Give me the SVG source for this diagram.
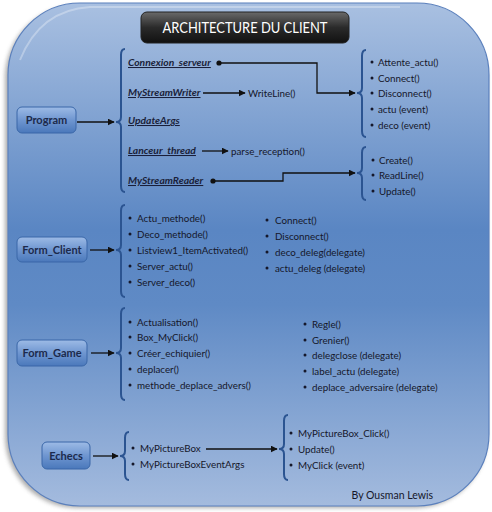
<svg xmlns="http://www.w3.org/2000/svg" width="492" height="512" viewBox="0 0 492 512">
<defs>
<linearGradient id="bg" x1="0" y1="0" x2="0" y2="1">
<stop offset="0" stop-color="#a9c0e1"/>
<stop offset="0.45" stop-color="#5a86c3"/>
<stop offset="0.6" stop-color="#5f8ac5"/>
<stop offset="1" stop-color="#a4bbde"/>
</linearGradient>
<linearGradient id="box" x1="0" y1="0" x2="0" y2="1">
<stop offset="0" stop-color="#9dbbe6"/>
<stop offset="0.5" stop-color="#6f96d0"/>
<stop offset="1" stop-color="#4a78bb"/>
</linearGradient>
<linearGradient id="title" x1="0" y1="0" x2="0" y2="1">
<stop offset="0" stop-color="#6a6a6a"/>
<stop offset="0.5" stop-color="#2a2a2a"/>
<stop offset="1" stop-color="#111"/>
</linearGradient>
<filter id="sh" x="-10%" y="-10%" width="120%" height="120%">
<feGaussianBlur stdDeviation="2"/>
</filter>
<marker id="ah" viewBox="0 0 10 10" refX="9" refY="5" markerWidth="7" markerHeight="7" orient="auto" markerUnits="userSpaceOnUse">
<path d="M0,0 L10,5 L0,10 Z" fill="#111"/>
</marker>
</defs>
<style>
.nb{fill:url(#box);stroke:#3a67a8;stroke-width:1}
.nt{font-family:Lato,"Open Sans",sans-serif;font-size:11px;font-weight:bold;fill:#1c2a4c;text-anchor:middle}
.it{font-family:Lato,"Open Sans",sans-serif;font-size:9.8px;fill:#15172a}
.ul{font-family:Lato,"Open Sans",sans-serif;font-size:10.3px;font-weight:bold;font-style:italic;fill:#1a1f3a;text-decoration:underline}
.br{fill:none;stroke:#2b5491;stroke-width:2}
.ln{fill:none;stroke:#111;stroke-width:1.3}
.bu{fill:#15172a}
</style>
<rect x="5" y="6" width="482" height="502" rx="72" fill="#777" opacity="0.6" filter="url(#sh)"/>
<rect x="8" y="3" width="481" height="503" rx="72" fill="url(#bg)" stroke="#5b80bd" stroke-width="1.2"/>
<path d="M20,60 Q40,10 90,7 L400,7" fill="none" stroke="#ffffff" stroke-opacity="0.3" stroke-width="2"/>

<g id="title-node">
<rect x="141" y="12" width="208" height="31" rx="6" fill="url(#title)" stroke="#222" stroke-width="1"/>
<text x="245" y="33" font-family="Lato,'Open Sans',sans-serif" font-size="16" fill="#fff" text-anchor="middle" textLength="165" lengthAdjust="spacingAndGlyphs">ARCHITECTURE DU CLIENT</text>
</g>

<g id="program">
<rect class="nb" x="17" y="107" width="59" height="26" rx="5"/>
<text class="nt" x="46.5" y="124">Program</text>
</g>
<g id="program-members">
<path class="br" d="M125,49 Q121,49 121,55 L121,117 Q121,122 116,122 Q121,122 121,127 L121,186 Q121,192 125,192"/>
<text class="ul" x="128" y="66">Connexion_serveur</text>
<text class="ul" x="128" y="96">MyStreamWriter</text>
<text class="ul" x="128" y="124">UpdateArgs</text>
<text class="ul" x="128" y="154">Lanceur_thread</text>
<text class="ul" x="128" y="184">MyStreamReader</text>
</g>
<g id="writeline"><text class="it" x="248" y="97">WriteLine()</text></g>
<g id="parse"><text class="it" x="231" y="155">parse_reception()</text></g>
<g id="conn-members">
<path class="br" d="M366,50 Q362,50 362,56 L362,88 Q362,93 357,93 Q362,93 362,98 L362,131 Q362,137 366,137"/>
<circle class="bu" cx="372" cy="62" r="1.5"/><text class="it" x="378" y="66">Attente_actu()</text>
<circle class="bu" cx="372" cy="78" r="1.5"/><text class="it" x="378" y="82">Connect()</text>
<circle class="bu" cx="372" cy="93" r="1.5"/><text class="it" x="378" y="97">Disconnect()</text>
<circle class="bu" cx="372" cy="109" r="1.5"/><text class="it" x="378" y="113">actu (event)</text>
<circle class="bu" cx="372" cy="125" r="1.5"/><text class="it" x="378" y="129">deco (event)</text>
</g>
<g id="reader-members">
<path class="br" d="M366,147 Q362,147 362,153 L362,168 Q362,173 357,173 Q362,173 362,178 L362,194 Q362,200 366,200"/>
<circle class="bu" cx="373" cy="160" r="1.5"/><text class="it" x="379" y="164">Create()</text>
<circle class="bu" cx="373" cy="175" r="1.5"/><text class="it" x="379" y="179">ReadLine()</text>
<circle class="bu" cx="373" cy="191" r="1.5"/><text class="it" x="379" y="195">Update()</text>
</g>

<g id="form_client">
<rect class="nb" x="17" y="237" width="70" height="25" rx="5"/>
<text class="nt" x="52" y="254">Form_Client</text>
</g>
<g id="form_client-members">
<path class="br" d="M125,205 Q121,205 121,211 L121,245 Q121,250 116,250 Q121,250 121,255 L121,291 Q121,297 125,297"/>
<circle class="bu" cx="130" cy="218" r="1.5"/><text class="it" x="137" y="222">Actu_methode()</text>
<circle class="bu" cx="130" cy="234" r="1.5"/><text class="it" x="137" y="238">Deco_methode()</text>
<circle class="bu" cx="130" cy="250" r="1.5"/><text class="it" x="137" y="254">Listview1_ItemActivated()</text>
<circle class="bu" cx="130" cy="266" r="1.5"/><text class="it" x="137" y="270">Server_actu()</text>
<circle class="bu" cx="130" cy="282" r="1.5"/><text class="it" x="137" y="286">Server_deco()</text>
<circle class="bu" cx="267" cy="220" r="1.5"/><text class="it" x="275" y="224">Connect()</text>
<circle class="bu" cx="267" cy="236" r="1.5"/><text class="it" x="275" y="240">Disconnect()</text>
<circle class="bu" cx="267" cy="252" r="1.5"/><text class="it" x="275" y="256">deco_deleg(delegate)</text>
<circle class="bu" cx="267" cy="268" r="1.5"/><text class="it" x="275" y="272">actu_deleg (delegate)</text>
</g>

<g id="form_game">
<rect class="nb" x="17" y="340" width="70" height="26" rx="5"/>
<text class="nt" x="52" y="357">Form_Game</text>
</g>
<g id="form_game-members">
<path class="br" d="M125,308 Q121,308 121,314 L121,348 Q121,353 116,353 Q121,353 121,358 L121,394 Q121,400 125,400"/>
<circle class="bu" cx="130" cy="322" r="1.5"/><text class="it" x="137" y="326">Actualisation()</text>
<circle class="bu" cx="130" cy="337" r="1.5"/><text class="it" x="137" y="341">Box_MyClick()</text>
<circle class="bu" cx="130" cy="353" r="1.5"/><text class="it" x="137" y="357">Créer_echiquier()</text>
<circle class="bu" cx="130" cy="369" r="1.5"/><text class="it" x="137" y="373">deplacer()</text>
<circle class="bu" cx="130" cy="385" r="1.5"/><text class="it" x="137" y="389">methode_deplace_advers()</text>
<circle class="bu" cx="305" cy="324" r="1.5"/><text class="it" x="312" y="328">Regle()</text>
<circle class="bu" cx="305" cy="340" r="1.5"/><text class="it" x="312" y="344">Grenier()</text>
<circle class="bu" cx="305" cy="355" r="1.5"/><text class="it" x="312" y="359">delegclose (delegate)</text>
<circle class="bu" cx="305" cy="371" r="1.5"/><text class="it" x="312" y="375">label_actu (delegate)</text>
<circle class="bu" cx="305" cy="387" r="1.5"/><text class="it" x="312" y="391">deplace_adversaire (delegate)</text>
</g>

<g id="echecs">
<rect class="nb" x="42" y="442" width="48" height="27" rx="5"/>
<text class="nt" x="66" y="460">Echecs</text>
</g>
<g id="echecs-members">
<path class="br" d="M129,432 Q125,432 125,438 L125,451 Q125,456 120,456 Q125,456 125,461 L125,474 Q125,480 129,480"/>
<circle class="bu" cx="133" cy="448" r="1.5"/><text class="it" x="140" y="452">MyPictureBox</text>
<circle class="bu" cx="133" cy="464" r="1.5"/><text class="it" x="140" y="468">MyPictureBoxEventArgs</text>
</g>
<g id="picturebox-members">
<path class="br" d="M288,415 Q284,415 284,421 L284,444 Q284,449 279,449 Q284,449 284,454 L284,474 Q284,480 288,480"/>
<circle class="bu" cx="291" cy="433" r="1.5"/><text class="it" x="298" y="437">MyPictureBox_Click()</text>
<circle class="bu" cx="291" cy="449" r="1.5"/><text class="it" x="298" y="453">Update()</text>
<circle class="bu" cx="291" cy="465" r="1.5"/><text class="it" x="298" y="469">MyClick (event)</text>
</g>

<g id="connectors">
<line class="ln" x1="77" y1="122" x2="114" y2="122" marker-end="url(#ah)"/>
<circle cx="219" cy="63" r="2.6" fill="#111"/>
<polyline class="ln" points="219,63 317,63 317,93 355,93" marker-end="url(#ah)"/>
<line class="ln" x1="203" y1="93" x2="245" y2="93" marker-end="url(#ah)"/>
<line class="ln" x1="202" y1="151" x2="228" y2="151" marker-end="url(#ah)"/>
<circle cx="213" cy="181" r="2.6" fill="#111"/>
<polyline class="ln" points="213,181 283,181 283,173 355,173" marker-end="url(#ah)"/>
<line class="ln" x1="90" y1="250" x2="114" y2="250" marker-end="url(#ah)"/>
<line class="ln" x1="91" y1="353" x2="114" y2="353" marker-end="url(#ah)"/>
<line class="ln" x1="93" y1="456" x2="118" y2="456" marker-end="url(#ah)"/>
<line class="ln" x1="206" y1="449" x2="277" y2="449" marker-end="url(#ah)"/>
</g>

<text x="433" y="499" font-family="Lato,'Open Sans',sans-serif" font-size="10.5" fill="#15172a" text-anchor="end">By Ousman Lewis</text>
</svg>
